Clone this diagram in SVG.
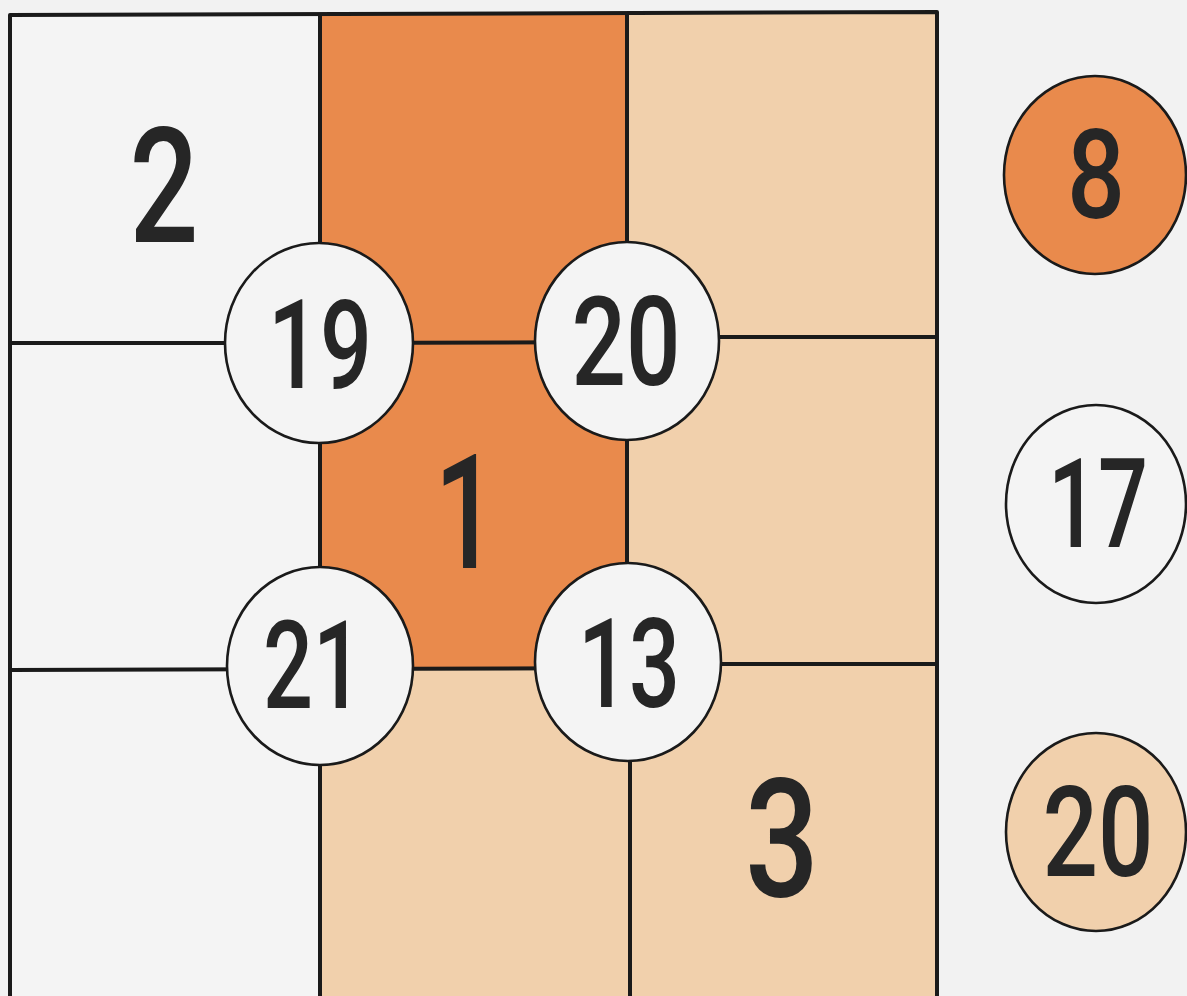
<svg xmlns="http://www.w3.org/2000/svg" width="1187" height="996" viewBox="0 0 1187 996">
<style>
.bg{fill:#f2f2f2}
.w{fill:#f4f4f4}
.o{fill:#e98a4c}
.p{fill:#f1d0ac}
.ln{fill:none;stroke:#1a1a1a;stroke-width:4;stroke-linejoin:round}
.c{stroke:#1a1a1a;stroke-width:2.6}
.t{font-family:Roboto,"Liberation Sans",sans-serif;font-weight:500;fill:#262626;text-anchor:middle}
</style>
<rect class="bg" x="0" y="0" width="1187" height="996"/>
<g id="cells">
<rect class="w" x="10" y="14" width="310" height="982"/>
<rect class="o" x="320" y="13" width="307" height="656"/>
<rect class="p" x="320" y="669" width="310" height="327"/>
<rect class="p" x="627" y="12" width="310" height="984"/>
</g>
<g id="connectors">
<path class="ln" d="M10,996 L10,15 L937,12 L937,996"/>
<path class="ln" d="M320,15 L320,996"/>
<path class="ln" d="M627,12 L627,662 L630,762 L630,996"/>
<path class="ln" d="M10,343 L320,343 L627,342 L720,337 L937,337"/>
<path class="ln" d="M10,670 L320,669 L628,668 L722,664 L937,664"/>
</g>
<g id="cell-2"><text class="t" x="164" y="242" font-size="162" textLength="69" lengthAdjust="spacingAndGlyphs">2</text></g>
<g id="cell-1"><text class="t" x="466" y="568" font-size="159" textLength="63" lengthAdjust="spacingAndGlyphs">1</text></g>
<g id="cell-3"><text class="t" x="782" y="896" font-size="166" textLength="74" lengthAdjust="spacingAndGlyphs">3</text></g>
<g id="node-19">
<ellipse class="c w" cx="319" cy="343" rx="94" ry="100"/>
<text class="t" x="320" y="388" font-size="124" textLength="104" lengthAdjust="spacingAndGlyphs">19</text>
</g>
<g id="node-20">
<ellipse class="c w" cx="627" cy="341" rx="92" ry="99"/>
<text class="t" x="626" y="385" font-size="124" textLength="109" lengthAdjust="spacingAndGlyphs">20</text>
</g>
<g id="node-21">
<ellipse class="c w" cx="320" cy="666" rx="93" ry="99"/>
<text class="t" x="313" y="708" font-size="122" textLength="100" lengthAdjust="spacingAndGlyphs">21</text>
</g>
<g id="node-13">
<ellipse class="c w" cx="628" cy="662" rx="93" ry="99"/>
<text class="t" x="629" y="707" font-size="124" textLength="102" lengthAdjust="spacingAndGlyphs">13</text>
</g>
<g id="legend-8">
<ellipse class="c o" cx="1095" cy="175" rx="91" ry="99"/>
<text class="t" x="1096" y="218" font-size="125" textLength="58" lengthAdjust="spacingAndGlyphs">8</text>
</g>
<g id="legend-17">
<ellipse class="c w" cx="1096" cy="504" rx="90" ry="99"/>
<text class="t" x="1098" y="547" font-size="124" textLength="100" lengthAdjust="spacingAndGlyphs">17</text>
</g>
<g id="legend-20">
<ellipse class="c p" cx="1096" cy="832" rx="90" ry="99"/>
<text class="t" x="1098" y="876" font-size="126" textLength="111" lengthAdjust="spacingAndGlyphs">20</text>
</g>
</svg>
